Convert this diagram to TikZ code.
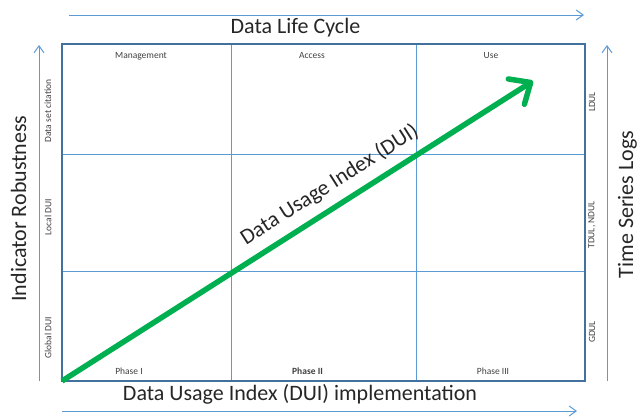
\documentclass[tikz,border=0pt]{standalone}
\usepackage{fontspec}
\setmainfont{Carlito}
\usetikzlibrary{arrows.meta}
\definecolor{gridblue}{HTML}{5B9BD5}
\definecolor{frameblue}{HTML}{41719C}
\definecolor{duigreen}{HTML}{00B050}
\definecolor{bigtxt}{HTML}{262626}
\definecolor{smalltxt}{HTML}{404040}
\tikzset{
  gridline/.style={draw=gridblue, line width=1bp},
  frameline/.style={draw=frameblue, line width=2.5bp},
  axisarrow/.style={draw=gridblue, line width=1bp, -{Straight Barb[length=7bp,width=10bp]}},
  duiarrow/.style={draw=duigreen, line width=5.5bp, -{Straight Barb[length=17bp,width=30bp,round]}},
  bigtext/.style={text=bigtxt, font=\fontsize{22bp}{26bp}\selectfont, inner sep=0pt},
  smalltext/.style={text=smalltxt, font=\fontsize{9.5bp}{11bp}\selectfont, inner sep=0pt},
}
\begin{document}
\begin{tikzpicture}[x=1bp, y=-1bp]
\path[use as bounding box] (0,0) rectangle (637,417);
% grid coordinates
\coordinate (TL) at (62,44);
\coordinate (BR) at (585,381);
\coordinate (v1t) at (231,44);  \coordinate (v1b) at (231,381);
\coordinate (v2t) at (416,44);  \coordinate (v2b) at (416,381);
\coordinate (h1l) at (62,154);  \coordinate (h1r) at (585,154);
\coordinate (h2l) at (62,271);  \coordinate (h2r) at (585,271);
\draw[gridline] (v1t) -- (v1b);
\draw[gridline] (v2t) -- (v2b);
\draw[gridline] (h1l) -- (h1r);
\draw[gridline] (h2l) -- (h2r);
\draw[frameline] (TL) rectangle (BR);
% axis arrows
\coordinate (topS) at (69,15);   \coordinate (topE) at (584,15);
\coordinate (botS) at (62,411);  \coordinate (botE) at (577,411);
\coordinate (lftS) at (39,381);  \coordinate (lftE) at (39,45);
\coordinate (rgtS) at (607,381); \coordinate (rgtE) at (607,45);
\draw[axisarrow] (topS) -- (topE);
\draw[axisarrow] (botS) -- (botE);
\draw[axisarrow] (lftS) -- (lftE);
\draw[axisarrow] (rgtS) -- (rgtE);
% axis titles
\node[bigtext, anchor=base] (lifecycle) at (295.5,33) {Data Life Cycle};
\node[bigtext, anchor=base] (impl) at (300,400) {Data Usage Index (DUI) implementation};
\node[bigtext, anchor=base, rotate=90] (robust) at (26,208.5) {Indicator Robustness};
\node[bigtext, anchor=base, rotate=90] (tslogs) at (633,204.5) {Time Series Logs};
% column headings
\node[smalltext, anchor=base] (mgmt) at (141,58) {Management};
\node[smalltext, anchor=base] (access) at (312,58) {Access};
\node[smalltext, anchor=base] (use) at (491,58) {Use};
% phases
\node[smalltext, anchor=base] (ph1) at (129,374) {Phase I};
\node[smalltext, anchor=base, font=\fontsize{9.5bp}{11bp}\selectfont\bfseries] (ph2) at (307.5,374) {Phase II};
\node[smalltext, anchor=base] (ph3) at (493,374) {Phase III};
% row labels left
\node[smalltext, rotate=90] (dsc) at (48,111) {Data set citation};
\node[smalltext, rotate=90] (ldui) at (48,217) {Local DUI};
\node[smalltext, rotate=90] (gdui) at (48,338) {Global DUI};
% row labels right
\node[smalltext, rotate=90] (ldul) at (592,102) {LDUL};
\node[smalltext, rotate=90] (tdul) at (592,225) {TDUL, NDUL};
\node[smalltext, rotate=90] (gdul) at (592,332) {GDUL};
% DUI arrow
\coordinate (duiS) at (62,381);
\coordinate (duiE) at (533,81);
\draw[duiarrow] (duiS) -- (duiE);
\node[bigtext, anchor=base, rotate=32.5] (duilabel) at (333,190) {Data Usage Index (DUI)};
\end{tikzpicture}
\end{document}
